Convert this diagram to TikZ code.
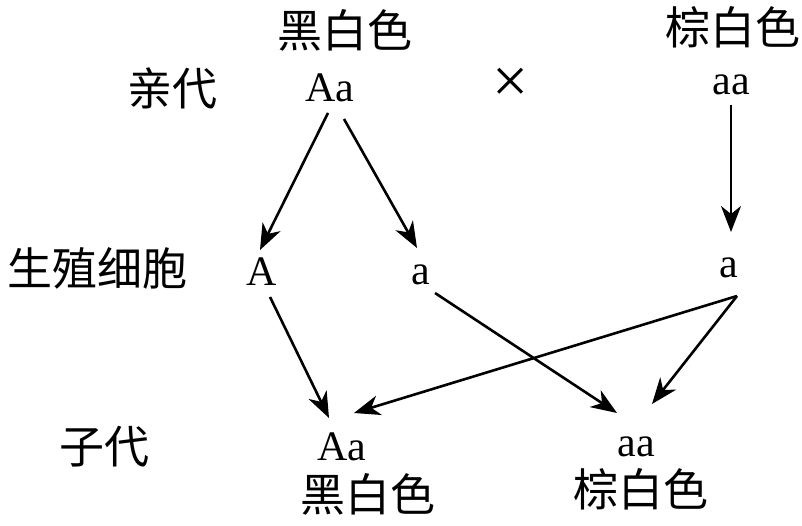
\documentclass[tikz,border=0pt]{standalone}
\usepackage{fontspec}
\setmainfont{Liberation Serif}
\newfontfamily\cjk{Noto Sans CJK SC}[Scale=1]
\usetikzlibrary{arrows.meta}
\begin{document}
\begin{tikzpicture}[x=1pt,y=-1pt,
  zh/.style={font=\cjk\fontsize{45}{48}\selectfont, inner sep=0pt},
  gene/.style={font=\fontsize{42}{44}\selectfont, inner sep=0pt},
  arr/.style={line width=2.6pt, -{Stealth[length=26pt,width=20pt,inset=8pt]}}]
\useasboundingbox (0,0) rectangle (802,526);
% labels
\node[zh] (lp) at (172,88) {亲代};
\node[zh] (lg) at (97,268) {生殖细胞};
\node[zh] (lo) at (104,447) {子代};
% parents
\node[zh] (pt1) at (345,30) {黑白色};
\node[gene] (p1) at (330,88) {Aa};
\node[font=\fontsize{64}{64}\selectfont, inner sep=0pt] (x) at (511,85) {×};
\node[zh] (pt2) at (733,27) {棕白色};
\node[gene] (p2) at (731,85) {aa};
% gametes
\node[gene] (gA) at (262,272) {A};
\node[gene] (ga) at (421,275) {a};
\node[gene] (gb) at (729,268) {a};
% offspring
\node[gene] (o1) at (342,447) {Aa};
\node[zh] (ot1) at (368,494) {黑白色};
\node[gene] (o2) at (636,447) {aa};
\node[zh] (ot2) at (641,489) {棕白色};
% arrows
\coordinate (s1) at (328,113);
\coordinate (e1) at (260,250);
\coordinate (s2) at (344,119);
\coordinate (e2) at (417,248);
\coordinate (s3) at (731,105);
\coordinate (e3) at (731,232);
\coordinate (s4) at (270,297);
\coordinate (e4) at (329,418);
\coordinate (s5) at (435,293);
\coordinate (e5) at (617,413);
\coordinate (s6) at (737,296);
\coordinate (e6) at (354,413);
\coordinate (e7) at (652,404);
\draw[arr] (s1) -- (e1);
\draw[arr] (s2) -- (e2);
\draw[arr] (s3) -- (e3);
\draw[arr] (s4) -- (e4);
\draw[arr] (s5) -- (e5);
\draw[arr] (s6) -- (e6);
\draw[arr] (s6) -- (e7);
\end{tikzpicture}
\end{document}
